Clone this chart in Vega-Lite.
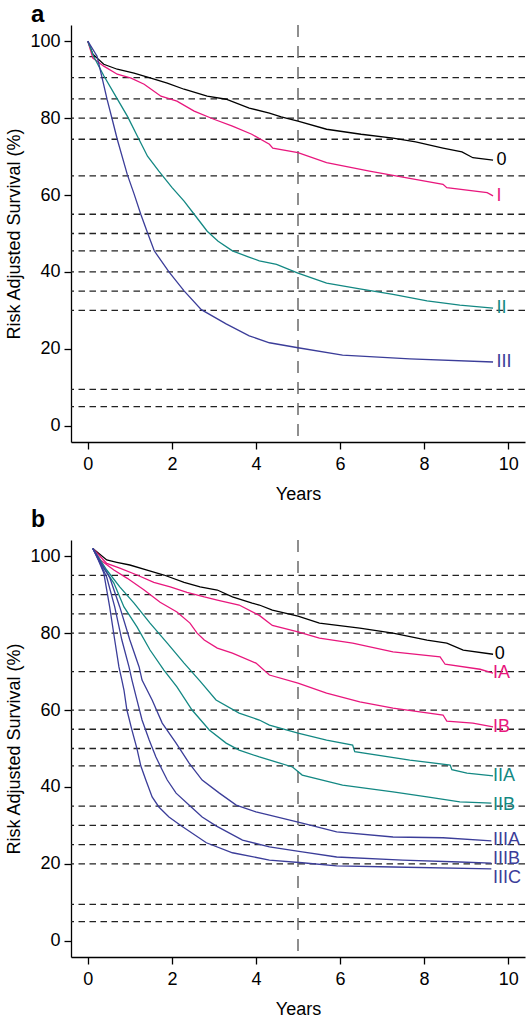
{
  "$schema": "https://vega.github.io/schema/vega-lite/v6.json",
  "padding": {"left": 5, "top": 3, "right": 0, "bottom": 0},
  "spacing": 6,
  "background": "white",
  "config": {
    "view": {"stroke": null},
    "font": "Liberation Sans",
    "axis": {
      "grid": false,
      "domainColor": "#000",
      "domainWidth": 1.3,
      "tickColor": "#000",
      "tickWidth": 1.3,
      "tickSize": 7,
      "labelFontSize": 18,
      "labelColor": "#000",
      "labelFont": "Liberation Sans",
      "titleFont": "Liberation Sans",
      "titleFontSize": 18,
      "titleFontWeight": "normal",
      "titleColor": "#000"
    },
    "axisX": {"labelPadding": 6, "titlePadding": 12},
    "axisY": {"labelPadding": 4, "titlePadding": 6, "labelAngle": 0}
  },
  "datasets": {
    "hlines": [
      {"p": "a", "v": 96}, {"p": "a", "v": 90.5}, {"p": "a", "v": 85}, {"p": "a", "v": 80}, {"p": "a", "v": 74.5},
      {"p": "a", "v": 65}, {"p": "a", "v": 55}, {"p": "a", "v": 50}, {"p": "a", "v": 45.5}, {"p": "a", "v": 40},
      {"p": "a", "v": 35}, {"p": "a", "v": 30}, {"p": "a", "v": 9.5}, {"p": "a", "v": 5},
      {"p": "b", "v": 95}, {"p": "b", "v": 90}, {"p": "b", "v": 85}, {"p": "b", "v": 80}, {"p": "b", "v": 70},
      {"p": "b", "v": 60}, {"p": "b", "v": 55}, {"p": "b", "v": 50}, {"p": "b", "v": 45.5}, {"p": "b", "v": 35},
      {"p": "b", "v": 30}, {"p": "b", "v": 25}, {"p": "b", "v": 20}, {"p": "b", "v": 9.5}, {"p": "b", "v": 5}
    ],
    "vlines": [{"p": "a", "t": 5}, {"p": "b", "t": 5}],
    "labels": [
      {"p": "a", "g": "0", "t": 9.72, "v": 69.1},
      {"p": "a", "g": "I", "t": 9.72, "v": 59.7},
      {"p": "a", "g": "II", "t": 9.72, "v": 30.6},
      {"p": "a", "g": "III", "t": 9.72, "v": 16.6},
      {"p": "b", "g": "0", "t": 9.68, "v": 74.5},
      {"p": "b", "g": "IA", "t": 9.64, "v": 69.6},
      {"p": "b", "g": "IB", "t": 9.64, "v": 55.6},
      {"p": "b", "g": "IIA", "t": 9.64, "v": 42.9},
      {"p": "b", "g": "IIB", "t": 9.64, "v": 35.3},
      {"p": "b", "g": "IIIA", "t": 9.64, "v": 26.2},
      {"p": "b", "g": "IIIB", "t": 9.64, "v": 21.3},
      {"p": "b", "g": "IIIC", "t": 9.64, "v": 16.4}
    ],
    "curves": [
      {"p": "a", "g": "0", "t": 0, "v": 100}, {"p": "a", "g": "0", "t": 0.12, "v": 96.6}, {"p": "a", "g": "0", "t": 0.38, "v": 94},
      {"p": "a", "g": "0", "t": 0.7, "v": 92.7}, {"p": "a", "g": "0", "t": 1.1, "v": 91.7}, {"p": "a", "g": "0", "t": 1.5, "v": 90.4},
      {"p": "a", "g": "0", "t": 1.89, "v": 89.1}, {"p": "a", "g": "0", "t": 2.29, "v": 87.5}, {"p": "a", "g": "0", "t": 2.84, "v": 85.7},
      {"p": "a", "g": "0", "t": 3.29, "v": 84.9}, {"p": "a", "g": "0", "t": 3.84, "v": 82.6}, {"p": "a", "g": "0", "t": 4.32, "v": 81.3},
      {"p": "a", "g": "0", "t": 4.6, "v": 80.3}, {"p": "a", "g": "0", "t": 5, "v": 79.2}, {"p": "a", "g": "0", "t": 5.68, "v": 77.1},
      {"p": "a", "g": "0", "t": 6.5, "v": 75.8}, {"p": "a", "g": "0", "t": 7.26, "v": 74.8}, {"p": "a", "g": "0", "t": 7.8, "v": 73.8},
      {"p": "a", "g": "0", "t": 8.45, "v": 72.2}, {"p": "a", "g": "0", "t": 8.9, "v": 71.2}, {"p": "a", "g": "0", "t": 9.16, "v": 69.7},
      {"p": "a", "g": "0", "t": 9.64, "v": 69.1},

      {"p": "a", "g": "I", "t": 0, "v": 100}, {"p": "a", "g": "I", "t": 0.12, "v": 95.6}, {"p": "a", "g": "I", "t": 0.38, "v": 93.5},
      {"p": "a", "g": "I", "t": 0.7, "v": 91.4}, {"p": "a", "g": "I", "t": 1.03, "v": 90.4}, {"p": "a", "g": "I", "t": 1.34, "v": 88.8},
      {"p": "a", "g": "I", "t": 1.74, "v": 85.7}, {"p": "a", "g": "I", "t": 2.12, "v": 84.4}, {"p": "a", "g": "I", "t": 2.53, "v": 81.8},
      {"p": "a", "g": "I", "t": 3.0, "v": 79.7}, {"p": "a", "g": "I", "t": 3.44, "v": 77.9}, {"p": "a", "g": "I", "t": 3.9, "v": 75.8},
      {"p": "a", "g": "I", "t": 4.32, "v": 73.2}, {"p": "a", "g": "I", "t": 4.4, "v": 72.2}, {"p": "a", "g": "I", "t": 5, "v": 71},
      {"p": "a", "g": "I", "t": 5.68, "v": 68.4}, {"p": "a", "g": "I", "t": 6.7, "v": 66.2}, {"p": "a", "g": "I", "t": 7.26, "v": 65.1},
      {"p": "a", "g": "I", "t": 8.45, "v": 62.8}, {"p": "a", "g": "I", "t": 8.54, "v": 61.9}, {"p": "a", "g": "I", "t": 9.5, "v": 60.6},
      {"p": "a", "g": "I", "t": 9.64, "v": 59.8},

      {"p": "a", "g": "II", "t": 0, "v": 100}, {"p": "a", "g": "II", "t": 0.14, "v": 96}, {"p": "a", "g": "II", "t": 0.38, "v": 91},
      {"p": "a", "g": "II", "t": 0.7, "v": 85}, {"p": "a", "g": "II", "t": 0.94, "v": 80.5}, {"p": "a", "g": "II", "t": 1.18, "v": 75.3},
      {"p": "a", "g": "II", "t": 1.42, "v": 70.1}, {"p": "a", "g": "II", "t": 1.69, "v": 66.2}, {"p": "a", "g": "II", "t": 2.0, "v": 62},
      {"p": "a", "g": "II", "t": 2.29, "v": 58.4}, {"p": "a", "g": "II", "t": 2.53, "v": 55}, {"p": "a", "g": "II", "t": 2.84, "v": 50.6},
      {"p": "a", "g": "II", "t": 3.1, "v": 48}, {"p": "a", "g": "II", "t": 3.44, "v": 45.5}, {"p": "a", "g": "II", "t": 3.8, "v": 44},
      {"p": "a", "g": "II", "t": 4.08, "v": 42.9}, {"p": "a", "g": "II", "t": 4.49, "v": 42}, {"p": "a", "g": "II", "t": 5, "v": 39.7},
      {"p": "a", "g": "II", "t": 5.68, "v": 37.1}, {"p": "a", "g": "II", "t": 6.47, "v": 35.6}, {"p": "a", "g": "II", "t": 7.26, "v": 34.2},
      {"p": "a", "g": "II", "t": 8.07, "v": 32.5}, {"p": "a", "g": "II", "t": 8.85, "v": 31.4}, {"p": "a", "g": "II", "t": 9.64, "v": 30.6},

      {"p": "a", "g": "III", "t": 0, "v": 100}, {"p": "a", "g": "III", "t": 0.22, "v": 96.1}, {"p": "a", "g": "III", "t": 0.46, "v": 84.8},
      {"p": "a", "g": "III", "t": 0.58, "v": 79.7}, {"p": "a", "g": "III", "t": 0.7, "v": 74.5}, {"p": "a", "g": "III", "t": 0.94, "v": 65.3},
      {"p": "a", "g": "III", "t": 1.1, "v": 60.3}, {"p": "a", "g": "III", "t": 1.26, "v": 55}, {"p": "a", "g": "III", "t": 1.42, "v": 50.2},
      {"p": "a", "g": "III", "t": 1.58, "v": 45.5}, {"p": "a", "g": "III", "t": 1.93, "v": 40}, {"p": "a", "g": "III", "t": 2.29, "v": 35.1},
      {"p": "a", "g": "III", "t": 2.7, "v": 30.2}, {"p": "a", "g": "III", "t": 3.29, "v": 26.5}, {"p": "a", "g": "III", "t": 3.84, "v": 23.4},
      {"p": "a", "g": "III", "t": 4.32, "v": 21.6}, {"p": "a", "g": "III", "t": 5, "v": 20.3}, {"p": "a", "g": "III", "t": 6.06, "v": 18.4},
      {"p": "a", "g": "III", "t": 7.66, "v": 17.4}, {"p": "a", "g": "III", "t": 9.64, "v": 16.6},

      {"p": "b", "g": "0", "t": 0.12, "v": 102}, {"p": "b", "g": "0", "t": 0.45, "v": 99}, {"p": "b", "g": "0", "t": 0.69, "v": 98.4},
      {"p": "b", "g": "0", "t": 1.0, "v": 97.7}, {"p": "b", "g": "0", "t": 1.41, "v": 96.4}, {"p": "b", "g": "0", "t": 1.81, "v": 95.1},
      {"p": "b", "g": "0", "t": 2.29, "v": 93.2}, {"p": "b", "g": "0", "t": 2.67, "v": 92}, {"p": "b", "g": "0", "t": 3.08, "v": 91.2},
      {"p": "b", "g": "0", "t": 3.44, "v": 89.4}, {"p": "b", "g": "0", "t": 3.91, "v": 87.8}, {"p": "b", "g": "0", "t": 4.08, "v": 87.3},
      {"p": "b", "g": "0", "t": 4.39, "v": 86}, {"p": "b", "g": "0", "t": 5, "v": 84.4}, {"p": "b", "g": "0", "t": 5.51, "v": 82.6},
      {"p": "b", "g": "0", "t": 6.47, "v": 81.3}, {"p": "b", "g": "0", "t": 7.26, "v": 80}, {"p": "b", "g": "0", "t": 8.07, "v": 78.2},
      {"p": "b", "g": "0", "t": 8.54, "v": 77.4}, {"p": "b", "g": "0", "t": 8.93, "v": 75.6}, {"p": "b", "g": "0", "t": 9.64, "v": 74.5},

      {"p": "b", "g": "IA", "t": 0.12, "v": 102}, {"p": "b", "g": "IA", "t": 0.45, "v": 98.1}, {"p": "b", "g": "IA", "t": 0.76, "v": 96.9},
      {"p": "b", "g": "IA", "t": 1.17, "v": 95.1}, {"p": "b", "g": "IA", "t": 1.57, "v": 93.2}, {"p": "b", "g": "IA", "t": 1.96, "v": 92},
      {"p": "b", "g": "IA", "t": 2.36, "v": 90.6}, {"p": "b", "g": "IA", "t": 2.77, "v": 89.4}, {"p": "b", "g": "IA", "t": 3.08, "v": 88.6},
      {"p": "b", "g": "IA", "t": 3.6, "v": 87.3}, {"p": "b", "g": "IA", "t": 4.08, "v": 84.6}, {"p": "b", "g": "IA", "t": 4.39, "v": 82},
      {"p": "b", "g": "IA", "t": 5, "v": 80.3}, {"p": "b", "g": "IA", "t": 5.51, "v": 78.7}, {"p": "b", "g": "IA", "t": 6.3, "v": 77.4},
      {"p": "b", "g": "IA", "t": 7.26, "v": 75.1}, {"p": "b", "g": "IA", "t": 8.38, "v": 73.8}, {"p": "b", "g": "IA", "t": 8.5, "v": 71.9},
      {"p": "b", "g": "IA", "t": 9.33, "v": 70.6}, {"p": "b", "g": "IA", "t": 9.64, "v": 69.6},

      {"p": "b", "g": "IB", "t": 0.12, "v": 102}, {"p": "b", "g": "IB", "t": 0.3, "v": 99}, {"p": "b", "g": "IB", "t": 0.62, "v": 96.4},
      {"p": "b", "g": "IB", "t": 0.93, "v": 94.3}, {"p": "b", "g": "IB", "t": 1.34, "v": 91.2}, {"p": "b", "g": "IB", "t": 1.72, "v": 88},
      {"p": "b", "g": "IB", "t": 2.12, "v": 85.5}, {"p": "b", "g": "IB", "t": 2.43, "v": 82.6}, {"p": "b", "g": "IB", "t": 2.6, "v": 80},
      {"p": "b", "g": "IB", "t": 2.77, "v": 78.2}, {"p": "b", "g": "IB", "t": 3.08, "v": 76.1}, {"p": "b", "g": "IB", "t": 3.44, "v": 74.8},
      {"p": "b", "g": "IB", "t": 4.0, "v": 72.2}, {"p": "b", "g": "IB", "t": 4.32, "v": 69.1}, {"p": "b", "g": "IB", "t": 5, "v": 67},
      {"p": "b", "g": "IB", "t": 5.68, "v": 64.4}, {"p": "b", "g": "IB", "t": 6.47, "v": 62.1}, {"p": "b", "g": "IB", "t": 7.26, "v": 60.5},
      {"p": "b", "g": "IB", "t": 8.45, "v": 58.7}, {"p": "b", "g": "IB", "t": 8.54, "v": 57.1}, {"p": "b", "g": "IB", "t": 9.16, "v": 56.6},
      {"p": "b", "g": "IB", "t": 9.64, "v": 55.6},

      {"p": "b", "g": "IIA", "t": 0.12, "v": 102}, {"p": "b", "g": "IIA", "t": 0.45, "v": 96.4}, {"p": "b", "g": "IIA", "t": 0.76, "v": 92},
      {"p": "b", "g": "IIA", "t": 1.1, "v": 87.8}, {"p": "b", "g": "IIA", "t": 1.48, "v": 82.6}, {"p": "b", "g": "IIA", "t": 1.89, "v": 77.4},
      {"p": "b", "g": "IIA", "t": 2.29, "v": 72.2}, {"p": "b", "g": "IIA", "t": 2.67, "v": 67.5}, {"p": "b", "g": "IIA", "t": 3.05, "v": 62.6},
      {"p": "b", "g": "IIA", "t": 3.6, "v": 59.2}, {"p": "b", "g": "IIA", "t": 4.08, "v": 57.4}, {"p": "b", "g": "IIA", "t": 4.32, "v": 56.1},
      {"p": "b", "g": "IIA", "t": 5, "v": 54}, {"p": "b", "g": "IIA", "t": 5.68, "v": 52.2}, {"p": "b", "g": "IIA", "t": 6.3, "v": 50.9},
      {"p": "b", "g": "IIA", "t": 6.35, "v": 49.2}, {"p": "b", "g": "IIA", "t": 7.66, "v": 47}, {"p": "b", "g": "IIA", "t": 8.62, "v": 45.7},
      {"p": "b", "g": "IIA", "t": 8.66, "v": 44.5}, {"p": "b", "g": "IIA", "t": 9.02, "v": 43.6}, {"p": "b", "g": "IIA", "t": 9.64, "v": 42.9},

      {"p": "b", "g": "IIB", "t": 0.12, "v": 102}, {"p": "b", "g": "IIB", "t": 0.38, "v": 96.9}, {"p": "b", "g": "IIB", "t": 0.62, "v": 93},
      {"p": "b", "g": "IIB", "t": 0.86, "v": 86.8}, {"p": "b", "g": "IIB", "t": 1.17, "v": 81.6}, {"p": "b", "g": "IIB", "t": 1.48, "v": 75.6},
      {"p": "b", "g": "IIB", "t": 1.81, "v": 70.4}, {"p": "b", "g": "IIB", "t": 2.12, "v": 66}, {"p": "b", "g": "IIB", "t": 2.48, "v": 60},
      {"p": "b", "g": "IIB", "t": 2.89, "v": 54.8}, {"p": "b", "g": "IIB", "t": 3.29, "v": 51.4}, {"p": "b", "g": "IIB", "t": 3.6, "v": 49.6},
      {"p": "b", "g": "IIB", "t": 4.08, "v": 47.8}, {"p": "b", "g": "IIB", "t": 4.87, "v": 45.2}, {"p": "b", "g": "IIB", "t": 5.1, "v": 43.1},
      {"p": "b", "g": "IIB", "t": 6.06, "v": 40.5}, {"p": "b", "g": "IIB", "t": 7.26, "v": 38.7}, {"p": "b", "g": "IIB", "t": 8.07, "v": 37.4},
      {"p": "b", "g": "IIB", "t": 8.85, "v": 36.1}, {"p": "b", "g": "IIB", "t": 9.6, "v": 35.8},

      {"p": "b", "g": "IIIA", "t": 0.12, "v": 102}, {"p": "b", "g": "IIIA", "t": 0.3, "v": 98.5}, {"p": "b", "g": "IIIA", "t": 0.52, "v": 94.5},
      {"p": "b", "g": "IIIA", "t": 0.76, "v": 86.8}, {"p": "b", "g": "IIIA", "t": 1.0, "v": 78.2}, {"p": "b", "g": "IIIA", "t": 1.22, "v": 71.2},
      {"p": "b", "g": "IIIA", "t": 1.29, "v": 67.8}, {"p": "b", "g": "IIIA", "t": 1.53, "v": 62.6}, {"p": "b", "g": "IIIA", "t": 1.77, "v": 56.6},
      {"p": "b", "g": "IIIA", "t": 2.1, "v": 51.4}, {"p": "b", "g": "IIIA", "t": 2.41, "v": 46.2}, {"p": "b", "g": "IIIA", "t": 2.72, "v": 41.8},
      {"p": "b", "g": "IIIA", "t": 3.13, "v": 38.4}, {"p": "b", "g": "IIIA", "t": 3.53, "v": 35.3}, {"p": "b", "g": "IIIA", "t": 4.0, "v": 33.5},
      {"p": "b", "g": "IIIA", "t": 4.32, "v": 32.7}, {"p": "b", "g": "IIIA", "t": 5.1, "v": 30.6}, {"p": "b", "g": "IIIA", "t": 5.92, "v": 28.3},
      {"p": "b", "g": "IIIA", "t": 7.26, "v": 27}, {"p": "b", "g": "IIIA", "t": 8.45, "v": 26.8}, {"p": "b", "g": "IIIA", "t": 9.6, "v": 26},

      {"p": "b", "g": "IIIB", "t": 0.12, "v": 102}, {"p": "b", "g": "IIIB", "t": 0.3, "v": 98}, {"p": "b", "g": "IIIB", "t": 0.45, "v": 94.5},
      {"p": "b", "g": "IIIB", "t": 0.64, "v": 86.8}, {"p": "b", "g": "IIIB", "t": 0.81, "v": 78.2}, {"p": "b", "g": "IIIB", "t": 0.98, "v": 71.2},
      {"p": "b", "g": "IIIB", "t": 1.05, "v": 67.8}, {"p": "b", "g": "IIIB", "t": 1.15, "v": 63.4}, {"p": "b", "g": "IIIB", "t": 1.29, "v": 57.4},
      {"p": "b", "g": "IIIB", "t": 1.46, "v": 52.2}, {"p": "b", "g": "IIIB", "t": 1.62, "v": 47.8}, {"p": "b", "g": "IIIB", "t": 1.77, "v": 44.4},
      {"p": "b", "g": "IIIB", "t": 1.89, "v": 41.8}, {"p": "b", "g": "IIIB", "t": 2.1, "v": 38.4}, {"p": "b", "g": "IIIB", "t": 2.46, "v": 34.8},
      {"p": "b", "g": "IIIB", "t": 2.72, "v": 32.2}, {"p": "b", "g": "IIIB", "t": 3.05, "v": 29.9}, {"p": "b", "g": "IIIB", "t": 3.68, "v": 26.2},
      {"p": "b", "g": "IIIB", "t": 4.32, "v": 24.4}, {"p": "b", "g": "IIIB", "t": 5.1, "v": 23.1}, {"p": "b", "g": "IIIB", "t": 5.92, "v": 21.8},
      {"p": "b", "g": "IIIB", "t": 7.49, "v": 21}, {"p": "b", "g": "IIIB", "t": 8.85, "v": 20.5}, {"p": "b", "g": "IIIB", "t": 9.6, "v": 20.2},

      {"p": "b", "g": "IIIC", "t": 0.12, "v": 102}, {"p": "b", "g": "IIIC", "t": 0.25, "v": 99}, {"p": "b", "g": "IIIC", "t": 0.38, "v": 95.6},
      {"p": "b", "g": "IIIC", "t": 0.52, "v": 86.8}, {"p": "b", "g": "IIIC", "t": 0.64, "v": 78.2}, {"p": "b", "g": "IIIC", "t": 0.74, "v": 71.2},
      {"p": "b", "g": "IIIC", "t": 0.81, "v": 67.8}, {"p": "b", "g": "IIIC", "t": 0.86, "v": 65.2}, {"p": "b", "g": "IIIC", "t": 0.93, "v": 60},
      {"p": "b", "g": "IIIC", "t": 1.05, "v": 54.8}, {"p": "b", "g": "IIIC", "t": 1.17, "v": 49.9}, {"p": "b", "g": "IIIC", "t": 1.26, "v": 45.5},
      {"p": "b", "g": "IIIC", "t": 1.38, "v": 41.8}, {"p": "b", "g": "IIIC", "t": 1.53, "v": 37.4}, {"p": "b", "g": "IIIC", "t": 1.69, "v": 34.8},
      {"p": "b", "g": "IIIC", "t": 1.93, "v": 32.2}, {"p": "b", "g": "IIIC", "t": 2.22, "v": 29.9}, {"p": "b", "g": "IIIC", "t": 2.82, "v": 25.5},
      {"p": "b", "g": "IIIC", "t": 3.44, "v": 22.9}, {"p": "b", "g": "IIIC", "t": 4.32, "v": 21}, {"p": "b", "g": "IIIC", "t": 5.1, "v": 20.3},
      {"p": "b", "g": "IIIC", "t": 5.92, "v": 19.5}, {"p": "b", "g": "IIIC", "t": 7.26, "v": 19.2}, {"p": "b", "g": "IIIC", "t": 9.6, "v": 18.7}
    ]
  },
  "vconcat": [
    {
      "width": 454,
      "height": 417,
      "title": {"text": "a", "anchor": "start", "frame": "group", "dx": -40, "fontSize": 24, "fontWeight": "bold", "baseline": "alphabetic", "offset": -22, "color": "#000"},
      "layer": [
        {
          "data": {"name": "hlines"},
          "transform": [{"filter": "datum.p == 'a'"}],
          "mark": {"type": "rule", "strokeDash": [6.5, 4.5], "color": "#222", "strokeWidth": 1.3},
          "encoding": {
            "y": {"field": "v", "type": "quantitative", "scale": {"domain": [-4.2, 104.2], "nice": false, "zero": false}, "axis": {"values": [0, 20, 40, 60, 80, 100], "title": "Risk Adjusted Survival (%)"}}
          }
        },
        {
          "data": {"name": "vlines"},
          "transform": [{"filter": "datum.p == 'a'"}],
          "mark": {"type": "rule", "strokeDash": [12, 9], "color": "#333", "strokeWidth": 1.1},
          "encoding": {
            "x": {"field": "t", "type": "quantitative", "scale": {"domain": [-0.4, 10.4], "nice": false, "zero": false}, "axis": {"values": [0, 2, 4, 6, 8, 10], "title": "Years"}}
          }
        },
        {
          "data": {"name": "curves"},
          "transform": [{"filter": "datum.p == 'a'"}],
          "mark": {"type": "line", "strokeWidth": 1.3},
          "encoding": {
            "x": {"field": "t", "type": "quantitative", "scale": {"domain": [-0.4, 10.4], "nice": false, "zero": false}, "axis": {"values": [0, 2, 4, 6, 8, 10], "title": "Years"}},
            "y": {"field": "v", "type": "quantitative", "scale": {"domain": [-4.2, 104.2], "nice": false, "zero": false}, "axis": {"values": [0, 20, 40, 60, 80, 100], "title": "Risk Adjusted Survival (%)"}},
            "color": {"field": "g", "type": "nominal", "legend": null, "scale": {"domain": ["0", "I", "II", "III", "IA", "IB", "IIA", "IIB", "IIIA", "IIIB", "IIIC"], "range": ["#000000", "#E8177D", "#138883", "#3B3D99", "#E8177D", "#E8177D", "#138883", "#138883", "#3B3D99", "#3B3D99", "#3B3D99"]}}
          }
        },
        {
          "data": {"name": "labels"},
          "transform": [{"filter": "datum.p == 'a'"}],
          "mark": {"type": "text", "align": "left", "baseline": "middle", "fontSize": 18},
          "encoding": {
            "x": {"field": "t", "type": "quantitative", "scale": {"domain": [-0.4, 10.4], "nice": false, "zero": false}, "axis": {"values": [0, 2, 4, 6, 8, 10], "title": "Years"}},
            "y": {"field": "v", "type": "quantitative", "scale": {"domain": [-4.2, 104.2], "nice": false, "zero": false}, "axis": {"values": [0, 20, 40, 60, 80, 100], "title": "Risk Adjusted Survival (%)"}},
            "text": {"field": "g"},
            "color": {"field": "g", "type": "nominal", "legend": null, "scale": {"domain": ["0", "I", "II", "III", "IA", "IB", "IIA", "IIB", "IIIA", "IIIB", "IIIC"], "range": ["#000000", "#E8177D", "#138883", "#3B3D99", "#E8177D", "#E8177D", "#138883", "#138883", "#3B3D99", "#3B3D99", "#3B3D99"]}}
          }
        }
      ]
    },
    {
      "width": 454,
      "height": 417,
      "title": {"text": "b", "anchor": "start", "frame": "group", "dx": -40, "fontSize": 23, "fontWeight": "bold", "baseline": "alphabetic", "offset": -11, "color": "#000"},
      "layer": [
        {
          "data": {"name": "hlines"},
          "transform": [{"filter": "datum.p == 'b'"}],
          "mark": {"type": "rule", "strokeDash": [6.5, 4.5], "color": "#222", "strokeWidth": 1.3},
          "encoding": {
            "y": {"field": "v", "type": "quantitative", "scale": {"domain": [-4.2, 104.2], "nice": false, "zero": false}, "axis": {"values": [0, 20, 40, 60, 80, 100], "title": "Risk Adjusted Survival (%)"}}
          }
        },
        {
          "data": {"name": "vlines"},
          "transform": [{"filter": "datum.p == 'b'"}],
          "mark": {"type": "rule", "strokeDash": [12, 9], "color": "#333", "strokeWidth": 1.1},
          "encoding": {
            "x": {"field": "t", "type": "quantitative", "scale": {"domain": [-0.4, 10.4], "nice": false, "zero": false}, "axis": {"values": [0, 2, 4, 6, 8, 10], "title": "Years"}}
          }
        },
        {
          "data": {"name": "curves"},
          "transform": [{"filter": "datum.p == 'b'"}],
          "mark": {"type": "line", "strokeWidth": 1.3},
          "encoding": {
            "x": {"field": "t", "type": "quantitative", "scale": {"domain": [-0.4, 10.4], "nice": false, "zero": false}, "axis": {"values": [0, 2, 4, 6, 8, 10], "title": "Years"}},
            "y": {"field": "v", "type": "quantitative", "scale": {"domain": [-4.2, 104.2], "nice": false, "zero": false}, "axis": {"values": [0, 20, 40, 60, 80, 100], "title": "Risk Adjusted Survival (%)"}},
            "color": {"field": "g", "type": "nominal", "legend": null, "scale": {"domain": ["0", "I", "II", "III", "IA", "IB", "IIA", "IIB", "IIIA", "IIIB", "IIIC"], "range": ["#000000", "#E8177D", "#138883", "#3B3D99", "#E8177D", "#E8177D", "#138883", "#138883", "#3B3D99", "#3B3D99", "#3B3D99"]}}
          }
        },
        {
          "data": {"name": "labels"},
          "transform": [{"filter": "datum.p == 'b'"}],
          "mark": {"type": "text", "align": "left", "baseline": "middle", "fontSize": 18},
          "encoding": {
            "x": {"field": "t", "type": "quantitative", "scale": {"domain": [-0.4, 10.4], "nice": false, "zero": false}, "axis": {"values": [0, 2, 4, 6, 8, 10], "title": "Years"}},
            "y": {"field": "v", "type": "quantitative", "scale": {"domain": [-4.2, 104.2], "nice": false, "zero": false}, "axis": {"values": [0, 20, 40, 60, 80, 100], "title": "Risk Adjusted Survival (%)"}},
            "text": {"field": "g"},
            "color": {"field": "g", "type": "nominal", "legend": null, "scale": {"domain": ["0", "I", "II", "III", "IA", "IB", "IIA", "IIB", "IIIA", "IIIB", "IIIC"], "range": ["#000000", "#E8177D", "#138883", "#3B3D99", "#E8177D", "#E8177D", "#138883", "#138883", "#3B3D99", "#3B3D99", "#3B3D99"]}}
          }
        }
      ]
    }
  ]
}
